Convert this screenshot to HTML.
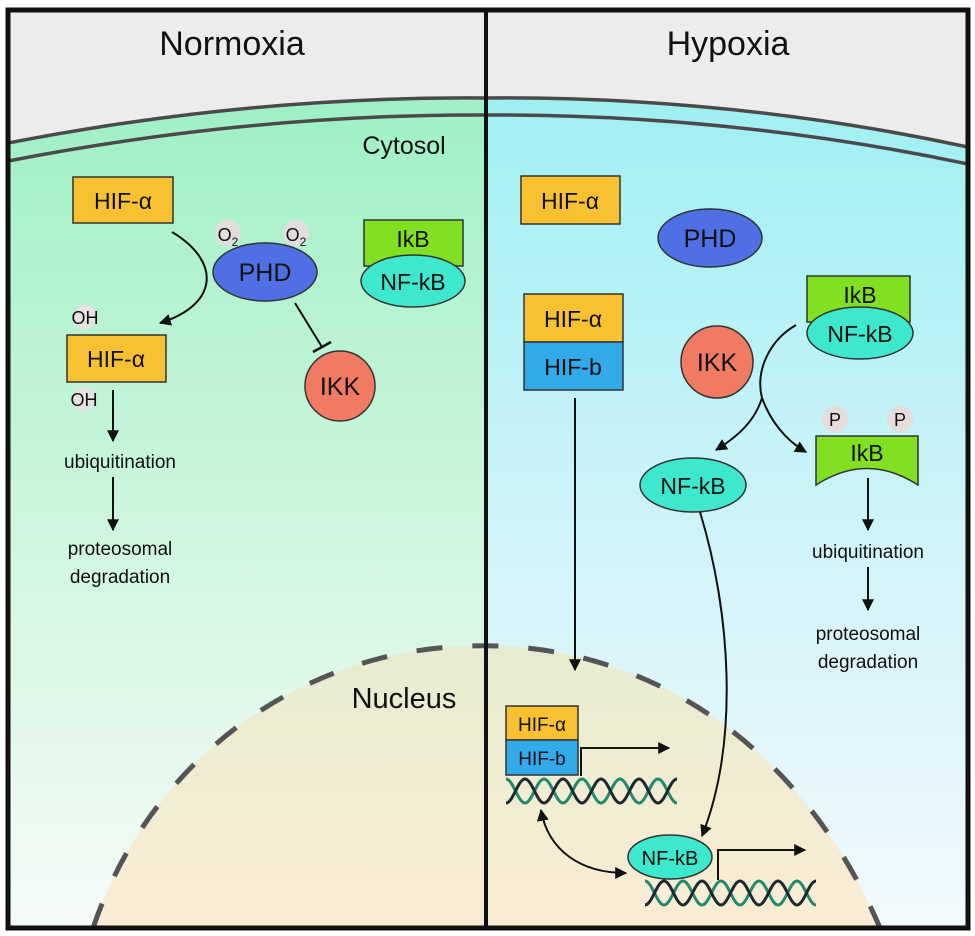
<!DOCTYPE html>
<html><head><meta charset="utf-8"><style>
html,body{margin:0;padding:0;background:#fff}
svg{display:block}
text{font-family:"Liberation Sans",sans-serif;fill:#111}
</style></head><body>
<svg width="975" height="936" viewBox="0 0 975 936" xmlns="http://www.w3.org/2000/svg">
<defs>
<linearGradient id="gL" x1="0" y1="0" x2="0" y2="1">
<stop offset="0" stop-color="#9ff0c4"/><stop offset="0.6" stop-color="#d6f7e2"/><stop offset="1" stop-color="#f6fbf8"/></linearGradient>
<linearGradient id="gR" x1="0" y1="0" x2="0" y2="1">
<stop offset="0" stop-color="#9ff0f2"/><stop offset="0.6" stop-color="#d6f4fa"/><stop offset="1" stop-color="#f2fafd"/></linearGradient>
<linearGradient id="gN" x1="0" y1="0" x2="0" y2="1">
<stop offset="0" stop-color="#e6ecd0"/><stop offset="1" stop-color="#fbecd4"/></linearGradient>
<marker id="ah2" viewBox="0 0 10 10" refX="9" refY="5" markerWidth="12" markerHeight="12" markerUnits="userSpaceOnUse" orient="auto"><path d="M0,0 L10,5 L0,10 z" fill="#111"/></marker>
<marker id="ahs" viewBox="0 0 10 10" refX="1" refY="5" markerWidth="12" markerHeight="12" markerUnits="userSpaceOnUse" orient="auto"><path d="M10,0 L0,5 L10,10 z" fill="#111"/></marker>
<clipPath id="cl"><rect x="8" y="10" width="478" height="918"/></clipPath>
<clipPath id="cr"><rect x="486" y="10" width="482" height="918"/></clipPath>
<clipPath id="call"><rect x="8" y="10" width="960" height="918"/></clipPath>
</defs>
<rect x="0" y="0" width="975" height="936" fill="#fff"/>
<rect x="8" y="10" width="960" height="918" fill="#ececec"/>
<path d="M8,143 Q250,96 486,98 L486,930 L8,930 z" fill="url(#gL)" clip-path="url(#cl)"/>
<path d="M486,98 Q730,96 968,147 L968,930 L486,930 z" fill="url(#gR)" clip-path="url(#cr)"/>
<path d="M93,928 C150,760 300,650 470,646 C640,640 800,740 880,928 z" fill="url(#gN)" clip-path="url(#call)"/>
<path d="M93,928 C150,760 300,650 470,646 C640,640 800,740 880,928" fill="none" stroke="#555" stroke-width="5" stroke-dasharray="26,30" clip-path="url(#call)"/>
<g fill="none" stroke="#4a4a4a" stroke-width="3.5" clip-path="url(#call)">
<path d="M8,143 Q250,96 486,98 Q730,96 968,147"/>
<path d="M8,161 Q250,114 486,115 Q730,114 968,164"/>
</g>
<rect x="8" y="10" width="960" height="918" fill="none" stroke="#111" stroke-width="5"/>
<line x1="486" y1="10" x2="486" y2="928" stroke="#111" stroke-width="4"/>

<text x="232" y="55" font-size="34" text-anchor="middle">Normoxia</text>
<text x="728" y="55" font-size="34" text-anchor="middle">Hypoxia</text>
<text x="404" y="154" font-size="25" text-anchor="middle">Cytosol</text>
<text x="404" y="708" font-size="29" text-anchor="middle">Nucleus</text>

<rect x="73" y="177" width="100" height="46" fill="#f8c132" stroke="#333" stroke-width="1.5"/>
<text x="123" y="209" font-size="23" text-anchor="middle">HIF-α</text>
<circle cx="228" cy="233" r="13" fill="#e2dede"/>
<circle cx="296" cy="233" r="13" fill="#e2dede"/>
<text x="228" y="241" font-size="18" text-anchor="middle">O<tspan font-size="12" dy="5">2</tspan></text>
<text x="296" y="241" font-size="18" text-anchor="middle">O<tspan font-size="12" dy="5">2</tspan></text>
<ellipse cx="265" cy="272" rx="52" ry="29" fill="#4f70e4" stroke="#333" stroke-width="1.5"/>
<text x="265" y="281" font-size="25" text-anchor="middle">PHD</text>
<rect x="364" y="220" width="99" height="46" fill="#82e022" stroke="#333" stroke-width="1.5"/>
<text x="413" y="247" font-size="23" text-anchor="middle">IkB</text>
<ellipse cx="413" cy="281" rx="52" ry="26" fill="#3ee8cc" stroke="#333" stroke-width="1.5"/>
<text x="413" y="290" font-size="23" text-anchor="middle">NF-kB</text>
<path d="M172,232 C222,262 218,305 160,323" fill="none" stroke="#111" stroke-width="2" marker-end="url(#ah2)"/>
<circle cx="85" cy="317" r="12" fill="#e6e2e2"/>
<text x="85" y="324" font-size="18" text-anchor="middle">OH</text>
<rect x="67" y="335" width="99" height="47" fill="#f8c132" stroke="#333" stroke-width="1.5"/>
<text x="116" y="367" font-size="23" text-anchor="middle">HIF-α</text>
<circle cx="84" cy="399" r="12" fill="#e6e2e2"/>
<text x="84" y="406" font-size="18" text-anchor="middle">OH</text>
<line x1="113" y1="390" x2="113" y2="441" stroke="#111" stroke-width="2" marker-end="url(#ah2)"/>
<text x="120" y="468" font-size="19" text-anchor="middle">ubiquitination</text>
<line x1="113" y1="477" x2="113" y2="530" stroke="#111" stroke-width="2" marker-end="url(#ah2)"/>
<text x="120" y="555" font-size="19" text-anchor="middle">proteosomal</text>
<text x="120" y="583" font-size="19" text-anchor="middle">degradation</text>
<line x1="295" y1="303" x2="322" y2="347" stroke="#111" stroke-width="2"/>
<line x1="313" y1="352" x2="331" y2="342" stroke="#111" stroke-width="2.5"/>
<circle cx="340" cy="386" r="35" fill="#f07a62" stroke="#333" stroke-width="1.5"/>
<text x="340" y="395" font-size="25" text-anchor="middle">IKK</text>

<rect x="521" y="176" width="99" height="48" fill="#f8c132" stroke="#333" stroke-width="1.5"/>
<text x="570" y="209" font-size="23" text-anchor="middle">HIF-α</text>
<ellipse cx="710" cy="238" rx="52" ry="29" fill="#4f70e4" stroke="#333" stroke-width="1.5"/>
<text x="710" y="247" font-size="25" text-anchor="middle">PHD</text>
<rect x="807" y="276" width="103" height="46" fill="#82e022" stroke="#333" stroke-width="1.5"/>
<text x="860" y="303" font-size="23" text-anchor="middle">IkB</text>
<ellipse cx="860" cy="333" rx="53" ry="26" fill="#3ee8cc" stroke="#333" stroke-width="1.5"/>
<text x="860" y="342" font-size="23" text-anchor="middle">NF-kB</text>
<rect x="524" y="294" width="99" height="48" fill="#f8c132" stroke="#333" stroke-width="1.5"/>
<text x="573" y="327" font-size="23" text-anchor="middle">HIF-α</text>
<rect x="524" y="342" width="99" height="48" fill="#32aaea" stroke="#333" stroke-width="1.5"/>
<text x="573" y="375" font-size="23" text-anchor="middle">HIF-b</text>
<circle cx="717" cy="362" r="36" fill="#f07a62" stroke="#333" stroke-width="1.5"/>
<text x="717" y="371" font-size="25" text-anchor="middle">IKK</text>
<path d="M796,325 C770,340 755,370 762,398 C755,420 740,435 716,450" fill="none" stroke="#111" stroke-width="2" marker-end="url(#ah2)"/>
<path d="M762,398 C770,420 785,440 806,452" fill="none" stroke="#111" stroke-width="2" marker-end="url(#ah2)"/>
<circle cx="835" cy="419" r="13" fill="#e6dcdc"/>
<circle cx="900" cy="419" r="13" fill="#e6dcdc"/>
<text x="835" y="426" font-size="18" text-anchor="middle">P</text>
<text x="900" y="426" font-size="18" text-anchor="middle">P</text>
<path d="M816,436 L918,436 L918,485 Q867,452 816,485 z" fill="#82e022" stroke="#333" stroke-width="1.5"/>
<text x="867" y="461" font-size="23" text-anchor="middle">IkB</text>
<ellipse cx="693" cy="485" rx="53" ry="27" fill="#3ee8cc" stroke="#333" stroke-width="1.5"/>
<text x="693" y="494" font-size="23" text-anchor="middle">NF-kB</text>
<line x1="868" y1="478" x2="868" y2="530" stroke="#111" stroke-width="2" marker-end="url(#ah2)"/>
<text x="868" y="558" font-size="19" text-anchor="middle">ubiquitination</text>
<line x1="868" y1="567" x2="868" y2="610" stroke="#111" stroke-width="2" marker-end="url(#ah2)"/>
<text x="868" y="640" font-size="19" text-anchor="middle">proteosomal</text>
<text x="868" y="668" font-size="19" text-anchor="middle">degradation</text>
<line x1="575" y1="398" x2="575" y2="670" stroke="#111" stroke-width="2" marker-end="url(#ah2)"/>
<path d="M700,512 C730,610 740,740 702,836" fill="none" stroke="#111" stroke-width="2" marker-end="url(#ah2)"/>

<rect x="506" y="706" width="72" height="34" fill="#f8c132" stroke="#333" stroke-width="1.5"/>
<text x="542" y="731" font-size="19" text-anchor="middle">HIF-α</text>
<rect x="506" y="740" width="72" height="35" fill="#32aaea" stroke="#333" stroke-width="1.5"/>
<text x="542" y="765" font-size="19" text-anchor="middle">HIF-b</text>
<path d="M581,776 L581,748 L669,748" fill="none" stroke="#111" stroke-width="2" marker-end="url(#ah2)"/>
<g fill="none" stroke-width="3">
<path d="M506,779 c7,0 12,24 19,24 c7,0 12,-24 19,-24 c7,0 12,24 19,24 c7,0 12,-24 19,-24 c7,0 12,24 19,24 c7,0 12,-24 19,-24 c7,0 12,24 19,24 c7,0 12,-24 19,-24 c7,0 12,24 19,24" stroke="#1f8a6c"/>
<path d="M506,803 c7,0 12,-24 19,-24 c7,0 12,24 19,24 c7,0 12,-24 19,-24 c7,0 12,24 19,24 c7,0 12,-24 19,-24 c7,0 12,24 19,24 c7,0 12,-24 19,-24 c7,0 12,24 19,24 c7,0 12,-24 19,-24" stroke="#1c2a30"/>
<path d="M645,881 c7,0 12,24 19,24 c7,0 12,-24 19,-24 c7,0 12,24 19,24 c7,0 12,-24 19,-24 c7,0 12,24 19,24 c7,0 12,-24 19,-24 c7,0 12,24 19,24 c7,0 12,-24 19,-24 c7,0 12,24 19,24" stroke="#1f8a6c"/>
<path d="M645,905 c7,0 12,-24 19,-24 c7,0 12,24 19,24 c7,0 12,-24 19,-24 c7,0 12,24 19,24 c7,0 12,-24 19,-24 c7,0 12,24 19,24 c7,0 12,-24 19,-24 c7,0 12,24 19,24 c7,0 12,-24 19,-24" stroke="#1c2a30"/>
</g>
<ellipse cx="670" cy="857" rx="42" ry="22" fill="#3ee8cc" stroke="#333" stroke-width="1.5"/>
<text x="670" y="865" font-size="20" text-anchor="middle">NF-kB</text>
<path d="M718,880 L718,850 L805,850" fill="none" stroke="#111" stroke-width="2" marker-end="url(#ah2)"/>
<path d="M541,810 C548,850 580,873 626,873" fill="none" stroke="#111" stroke-width="2" marker-start="url(#ahs)" marker-end="url(#ah2)"/>
</svg>
</body></html>
